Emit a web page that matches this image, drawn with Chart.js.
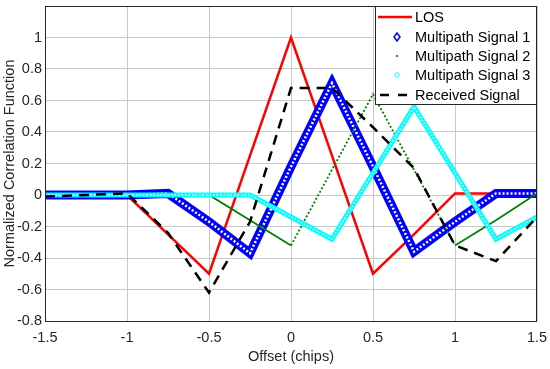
<!DOCTYPE html>
<html lang="en">
<head>
    <meta charset="UTF-8">
    <title>Normalized Correlation Function</title>
    <script src="https://cdn.jsdelivr.net/npm/chart.js"></script>
    <style>
        html, body { margin: 0; padding: 0; background: #fff; }
        #wrap { width: 550px; height: 369px; }
    </style>
</head>
<body>
    <div id="wrap"><canvas id="corrChart" width="550" height="369"></canvas></div>

    <script>
        // offset in chips, sampled every quarter chip
        const offsets  = [-1.5, -1.25, -1, -0.75, -0.5, -0.25, 0, 0.25, 0.5, 0.75, 1, 1.25, 1.5];
        const los      = [0, 0, 0, -0.25, -0.5, 0.25, 1, 0.25, -0.5, -0.25, 0.01, 0.01, 0];
        const multi1   = [0, 0, 0, 0.01, -0.17, -0.37, 0.18, 0.71, 0.18, -0.36, -0.17, 0.01, 0.01];
        const multi2   = [0, 0, 0, 0, 0, -0.16, -0.32, 0.16, 0.64, 0.16, -0.32, -0.16, 0.01];
        const multi3   = [0, 0, 0, 0, 0, 0, -0.14, -0.28, 0.14, 0.56, 0.14, -0.28, -0.14];
        const received = [-0.01, 0, 0.01, -0.24, -0.62, -0.17, 0.68, 0.68, 0.43, 0.17, -0.32, -0.42, -0.14];

        const xTicks = [-1.5, -1, -0.5, 0, 0.5, 1, 1.5];
        const legendLabels = ['LOS', 'Multipath Signal 1', 'Multipath Signal 2', 'Multipath Signal 3', 'Received Signal'];

        const FONT = "'Liberation Sans', Arial, sans-serif";
        const FSIZE = 14.5;
        const TEXT = '#262626';

        const pts = arr => offsets.map((x, i) => ({ x: x, y: arr[i] }));

        // dotted only where the sampled dots spread apart (steep parts)
        function steepDash(ctx) {
            const dx = Math.abs(ctx.p1.x - ctx.p0.x) || 1;
            const dy = Math.abs(ctx.p1.y - ctx.p0.y);
            return dy / dx > 1 ? [2, 2] : undefined;
        }

        // axes box + legend drawn in MATLAB style
        const boxLegend = {
            id: 'boxLegend',
            afterDraw(chart) {
                const c = chart.ctx;
                const a = chart.chartArea;
                c.save();
                c.strokeStyle = TEXT;
                c.lineWidth = 1;
                c.strokeRect(Math.round(a.left) + 0.5, Math.round(a.top) + 0.5,
                             Math.round(a.right - a.left) - 1, Math.round(a.bottom - a.top));

                const w = 162, h = 99;
                const lx = Math.round(a.right) - w, ly = Math.round(a.top);
                c.fillStyle = '#fff';
                c.fillRect(lx, ly, w, h);
                c.strokeStyle = TEXT;
                c.strokeRect(lx + 0.5, ly + 0.5, w - 1, h - 1);

                const rows = [11, 31, 50, 69, 89];
                const sx0 = lx + 3, sx1 = lx + 37, mx = lx + 22;
                c.font = FSIZE + 'px ' + FONT;
                c.textBaseline = 'middle';
                c.textAlign = 'left';
                legendLabels.forEach((label, i) => {
                    const y = ly + rows[i];
                    c.setLineDash([]);
                    if (i === 0) {
                        c.strokeStyle = '#ff0000';
                        c.lineWidth = 2.5;
                        c.beginPath(); c.moveTo(sx0, y); c.lineTo(sx1, y); c.stroke();
                    } else if (i === 1) {
                        c.strokeStyle = '#0000ff';
                        c.lineWidth = 1.5;
                        c.beginPath();
                        c.moveTo(mx, y - 4); c.lineTo(mx + 3, y); c.lineTo(mx, y + 4); c.lineTo(mx - 3, y);
                        c.closePath(); c.stroke();
                    } else if (i === 2) {
                        c.fillStyle = '#008000';
                        c.beginPath(); c.arc(mx, y, 1.1, 0, Math.PI * 2); c.fill();
                    } else if (i === 3) {
                        c.strokeStyle = '#00ffff';
                        c.lineWidth = 1;
                        c.beginPath(); c.arc(mx, y, 2.2, 0, Math.PI * 2); c.stroke();
                    } else {
                        c.strokeStyle = '#000';
                        c.lineWidth = 2.5;
                        c.setLineDash([9, 9]);
                        c.beginPath(); c.moveTo(sx0 + 2, y); c.lineTo(sx1 - 3, y); c.stroke();
                    }
                    c.fillStyle = '#000';
                    c.fillText(label, lx + 40, y + 1);
                });
                c.restore();
            }
        };

        new Chart(document.getElementById('corrChart'), {
            type: 'line',
            data: {
                datasets: [
                    {
                        label: 'Received Signal', data: pts(received), order: 0,
                        borderColor: '#000', borderWidth: 2.5, borderDash: [10, 7]
                    },
                    {
                        label: 'Multipath Signal 3 hatch', data: pts(multi3), order: 1,
                        borderColor: '#ffffff', borderWidth: 1.4, borderDash: [1.5, 2]
                    },
                    {
                        label: 'Multipath Signal 3', data: pts(multi3), order: 2,
                        borderColor: '#00ffff', borderWidth: 5
                    },
                    {
                        label: 'Multipath Signal 2', data: pts(multi2), order: 3,
                        borderColor: '#008000', borderWidth: 1.8,
                        segment: { borderDash: steepDash }
                    },
                    {
                        label: 'Multipath Signal 1 hatch', data: pts(multi1), order: 4,
                        borderColor: '#ffffff', borderWidth: 2.5, borderDash: [2, 2]
                    },
                    {
                        label: 'Multipath Signal 1', data: pts(multi1), order: 5,
                        borderColor: '#0000ff', borderWidth: 9
                    },
                    {
                        label: 'LOS', data: pts(los), order: 6,
                        borderColor: '#ff0000', borderWidth: 2.5
                    }
                ].map(d => Object.assign({ pointRadius: 0, fill: false, tension: 0 }, d))
            },
            options: {
                responsive: false,
                animation: false,
                layout: { padding: { top: 6, right: 13, left: 0, bottom: 0 } },
                plugins: {
                    legend: { display: false },
                    tooltip: { enabled: false }
                },
                scales: {
                    x: {
                        type: 'linear',
                        min: -1.5,
                        max: 1.5,
                        afterFit: s => { s.height = 48; s.paddingLeft = 0; s.paddingRight = 0; },
                        afterBuildTicks: s => { s.ticks = xTicks.map(v => ({ value: v })); },
                        ticks: {
                            padding: 8,
                            color: TEXT,
                            font: { family: FONT, size: FSIZE },
                            callback: v => String(v)
                        },
                        grid: { color: '#c8c8c8', drawTicks: false },
                        border: { display: false },
                        title: {
                            display: true,
                            text: 'Offset (chips)',
                            color: TEXT,
                            font: { family: FONT, size: FSIZE },
                            padding: { top: 0, bottom: 3 }
                        }
                    },
                    y: {
                        min: -0.8,
                        max: 1.2,
                        afterFit: s => { s.width = 45; s.paddingTop = 0; s.paddingBottom = 0; },
                        ticks: {
                            stepSize: 0.2,
                            padding: 3,
                            color: TEXT,
                            font: { family: FONT, size: FSIZE },
                            callback: v => (v > 1.1 ? '' : String(+v.toFixed(1)))
                        },
                        grid: { color: '#c8c8c8', drawTicks: false },
                        border: { display: false },
                        title: {
                            display: true,
                            text: 'Normalized Correlation Function',
                            color: TEXT,
                            font: { family: FONT, size: FSIZE },
                            padding: { top: 1, bottom: 0 }
                        }
                    }
                }
            },
            plugins: [boxLegend]
        });
    </script>
</body>
</html>
